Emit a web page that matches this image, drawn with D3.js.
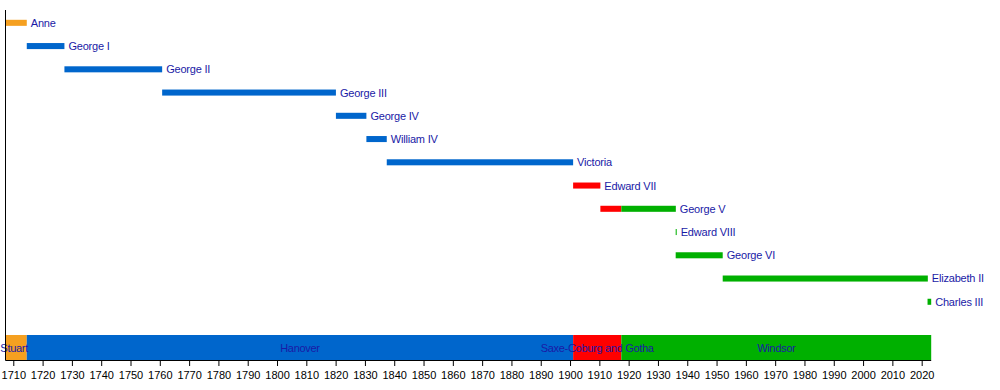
<!DOCTYPE html>
<html><head><meta charset="utf-8">
<script src="https://cdn.jsdelivr.net/npm/d3@7"></script>
<style>
html,body{margin:0;padding:0;background:#fff;}
svg{display:block;font-family:"Liberation Sans",Arial,sans-serif;}
</style></head>
<body>
<svg id="chart" width="1000" height="390"></svg>
<script>
// Data
const monarchs = ["Anne","George I","George II","George III","George IV","William IV","Victoria","Edward VII","George V","Edward VIII","George VI","Elizabeth II","Charles III"];
// reign segments: [monarch index, start year, end year, house]
const reignMonarch = [0,1,2,3,4,5,6,7,8,8,9,10,11,12];
const reignStart   = [1707.34,1714.6,1727.45,1760.8,1820.1,1830.5,1837.45,1901.05,1910.35,1917.5,1936.05,1936.05,1952.1,2022.0];
const reignEnd     = [1714.6,1727.45,1760.8,1820.1,1830.5,1837.45,1901.05,1910.35,1917.5,1936.1,1936.4,1952.1,2022.1,2023.25];
const reignHouse   = ["Stuart","Hanover","Hanover","Hanover","Hanover","Hanover","Hanover","Saxe-Coburg and Gotha","Saxe-Coburg and Gotha","Windsor","Windsor","Windsor","Windsor","Windsor"];
const houses      = ["Stuart","Hanover","Saxe-Coburg and Gotha","Windsor"];
const houseStart  = [1707.34,1714.6,1901.05,1917.5];
const houseEnd    = [1714.6,1901.05,1917.5,2023.25];
const tickYears   = d3.range(1710, 2021, 10);
const houseColors = ["#f5a020","#0066cc","#ff0000","#00b000"];

const svg = d3.select("#chart");
const x = d3.scaleLinear().domain([1707.34, 2023.25]).range([5.5, 931.2]);
const y = d3.scaleBand().domain(monarchs).range([11.2, 313.4]).paddingInner(0.74).paddingOuter(0.37);
const color = d3.scaleOrdinal().domain(houses).range(houseColors);
const textColor = "#1a1aa6";

// reign bars
svg.append("g").selectAll("rect").data(reignMonarch.map((m,i)=>({m, s:reignStart[i], e:reignEnd[i], h:reignHouse[i]})))
  .join("rect")
  .attr("x", d=>x(d.s))
  .attr("width", d=>Math.max(1, x(d.e)-x(d.s)))
  .attr("y", d=>y(monarchs[d.m]))
  .attr("height", y.bandwidth())
  .attr("fill", d=>color(d.h));

// monarch labels
const lastEnd = monarchs.map((n,mi)=>d3.max(reignMonarch.map((m,i)=>m===mi?reignEnd[i]:-Infinity)));
svg.append("g").selectAll("text").data(monarchs).join("text")
  .attr("x", (d,i)=>x(lastEnd[i]) + 4)
  .attr("y", d=>y(d)+y.bandwidth()/2)
  .attr("dy","0.36em")
  .attr("font-size", 11)
  .attr("letter-spacing", "-0.2")
  .attr("fill", textColor)
  .text(d=>d);

// house bar
const hb = svg.append("g");
hb.selectAll("rect").data(houses).join("rect")
  .attr("x",(d,i)=>x(houseStart[i]))
  .attr("width",(d,i)=>x(houseEnd[i])-x(houseStart[i]))
  .attr("y",335).attr("height",25)
  .attr("fill",d=>color(d));
hb.selectAll("text").data(houses).join("text")
  .attr("x",(d,i)=>(x(houseStart[i])+x(houseEnd[i]))/2 - (i===0?2:0))
  .attr("y",348).attr("dy","0.36em")
  .attr("text-anchor","middle")
  .attr("font-size",11)
  .attr("letter-spacing","-0.3")
  .attr("fill",textColor)
  .text(d=>d);

// axes
const ax = svg.append("g").attr("transform","translate(0,360)")
  .call(d3.axisBottom(x).tickValues(tickYears).tickFormat(d3.format("d")).tickSize(6).tickSizeOuter(0));
ax.select(".domain").attr("stroke","#000").attr("d","M5.5,0.5H931.2");
ax.selectAll(".tick line").attr("stroke","#000");
ax.selectAll(".tick text").attr("font-size",11).attr("fill","#000").attr("dy","0.9em")
  .attr("font-family","'Liberation Sans',Arial,sans-serif");
svg.append("line").attr("x1",5.5).attr("x2",5.5).attr("y1",10).attr("y2",360.5).attr("stroke","#000");
</script>
</body></html>
